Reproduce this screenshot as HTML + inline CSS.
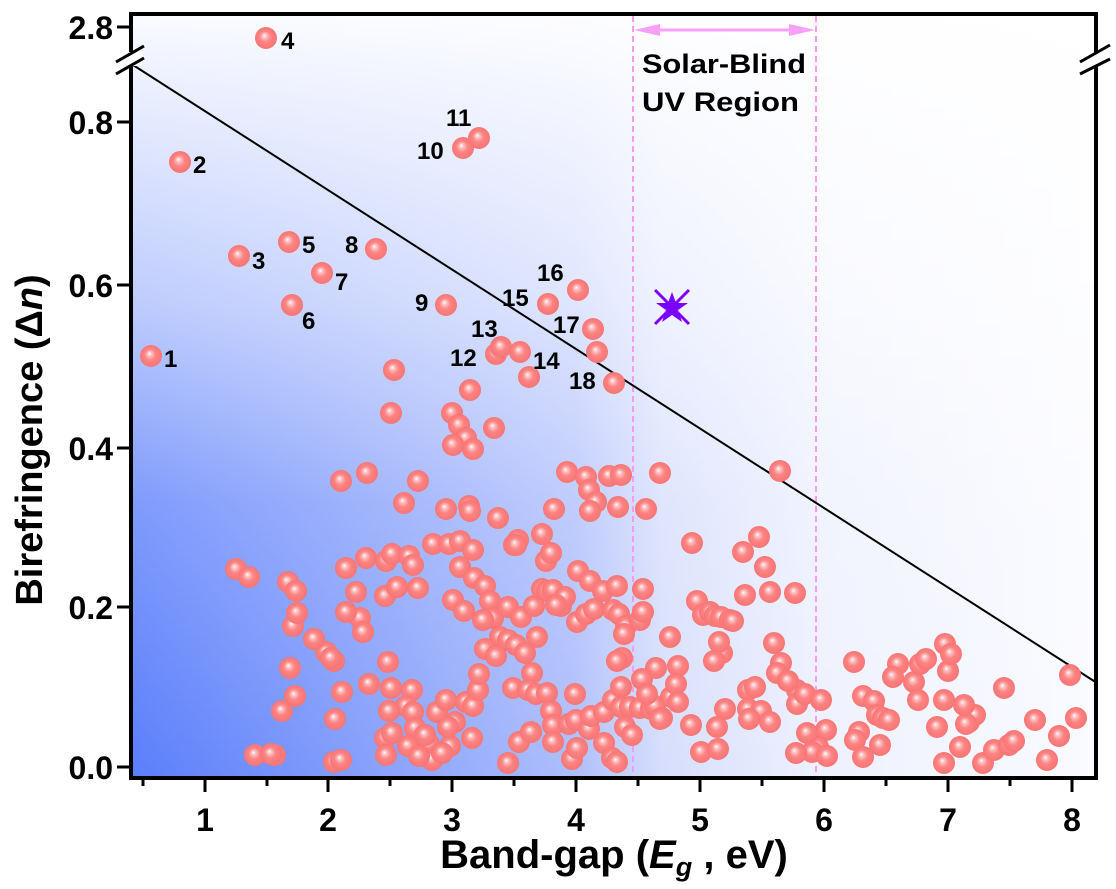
<!DOCTYPE html>
<html><head><meta charset="utf-8"><style>
html,body{margin:0;padding:0;background:#fff;width:1116px;height:889px;overflow:hidden}
svg text{font-family:"Liberation Sans",Arial,sans-serif;font-weight:bold}
</style></head><body>
<svg width="1116" height="889" viewBox="0 0 1116 889" xmlns="http://www.w3.org/2000/svg">
<defs>
<linearGradient id="hg" x1="131" y1="0" x2="1096" y2="0" gradientUnits="userSpaceOnUse">
<stop offset="0" stop-color="#5a7efb"/>
<stop offset="0.28" stop-color="#8ca4fb"/>
<stop offset="0.46" stop-color="#aebefc"/>
<stop offset="0.55" stop-color="#d6defc"/>
<stop offset="0.72" stop-color="#eef1fe"/>
<stop offset="1" stop-color="#fafbff"/>
</linearGradient>
<linearGradient id="vg" x1="0" y1="14" x2="0" y2="778" gradientUnits="userSpaceOnUse">
<stop offset="0" stop-color="#fff" stop-opacity="0.97"/>
<stop offset="0.38" stop-color="#fff" stop-opacity="0.6"/>
<stop offset="0.64" stop-color="#fff" stop-opacity="0.22"/>
<stop offset="1" stop-color="#fff" stop-opacity="0"/>
</linearGradient>
<radialGradient id="ball" cx="0.5" cy="0.5" r="0.5" fx="0.42" fy="0.38">
<stop offset="0" stop-color="#ffffff"/>
<stop offset="0.2" stop-color="#fdc0c0"/>
<stop offset="0.5" stop-color="#fc8484"/>
<stop offset="1" stop-color="#f87474"/>
</radialGradient>
<g id="b"><circle r="11" fill="url(#ball)"/></g>
</defs>
<rect x="131" y="14" width="965" height="764" fill="url(#hg)"/>
<rect x="131" y="14" width="965" height="764" fill="url(#vg)"/>
<line x1="633" y1="16" x2="633" y2="777" stroke="#f59af5" stroke-width="2" stroke-dasharray="6,4"/>
<line x1="816" y1="16" x2="816" y2="777" stroke="#f59af5" stroke-width="2" stroke-dasharray="6,4"/>
<line x1="640" y1="30" x2="810" y2="30" stroke="#f8a0f8" stroke-width="3"/>
<polygon points="634,30 660,24 660,36" fill="#f8a0f8"/>
<polygon points="815,30 789,24 789,36" fill="#f8a0f8"/>
<text x="642" y="73" font-size="27" textLength="164" lengthAdjust="spacingAndGlyphs">Solar-Blind</text>
<text x="642" y="111" font-size="27" textLength="157" lengthAdjust="spacingAndGlyphs">UV Region</text>
<line x1="133" y1="65" x2="1097" y2="683" stroke="#000" stroke-width="2"/>
<g id="pts">
<use href="#b" x="151" y="356"/><use href="#b" x="180" y="162"/><use href="#b" x="239" y="256"/><use href="#b" x="266" y="38"/><use href="#b" x="289" y="242"/><use href="#b" x="292" y="305"/><use href="#b" x="322" y="273"/><use href="#b" x="376" y="249"/><use href="#b" x="446" y="305"/><use href="#b" x="463" y="148"/><use href="#b" x="479" y="138"/><use href="#b" x="496" y="354"/><use href="#b" x="501" y="347"/><use href="#b" x="529" y="377"/><use href="#b" x="548" y="304"/><use href="#b" x="578" y="290"/><use href="#b" x="593" y="329"/><use href="#b" x="614" y="383"/><use href="#b" x="520" y="352"/><use href="#b" x="597" y="352"/>
<use href="#b" x="394" y="370"/><use href="#b" x="391" y="413"/><use href="#b" x="470" y="390"/><use href="#b" x="452" y="413"/><use href="#b" x="459" y="425"/><use href="#b" x="466" y="438"/><use href="#b" x="453" y="445"/><use href="#b" x="473" y="449"/><use href="#b" x="494" y="428"/><use href="#b" x="341" y="481"/><use href="#b" x="367" y="473"/><use href="#b" x="404" y="503"/><use href="#b" x="418" y="481"/><use href="#b" x="469" y="506"/><use href="#b" x="470" y="511"/><use href="#b" x="498" y="518"/><use href="#b" x="518" y="540"/><use href="#b" x="514" y="545"/><use href="#b" x="542" y="534"/><use href="#b" x="546" y="561"/><use href="#b" x="567" y="472"/><use href="#b" x="554" y="509"/><use href="#b" x="586" y="477"/><use href="#b" x="589" y="490"/><use href="#b" x="596" y="502"/><use href="#b" x="590" y="511"/><use href="#b" x="609" y="476"/><use href="#b" x="618" y="507"/><use href="#b" x="621" y="475"/><use href="#b" x="660" y="473"/><use href="#b" x="646" y="509"/><use href="#b" x="780" y="471"/>
<use href="#b" x="236" y="569"/><use href="#b" x="249" y="577"/><use href="#b" x="288" y="582"/><use href="#b" x="293" y="626"/><use href="#b" x="346" y="568"/><use href="#b" x="366" y="558"/><use href="#b" x="356" y="592"/><use href="#b" x="360" y="618"/><use href="#b" x="385" y="596"/><use href="#b" x="397" y="587"/><use href="#b" x="386" y="561"/><use href="#b" x="392" y="554"/><use href="#b" x="409" y="556"/><use href="#b" x="413" y="565"/><use href="#b" x="418" y="588"/><use href="#b" x="433" y="544"/><use href="#b" x="446" y="509"/><use href="#b" x="449" y="544"/><use href="#b" x="460" y="541"/><use href="#b" x="460" y="567"/><use href="#b" x="473" y="550"/><use href="#b" x="474" y="578"/><use href="#b" x="453" y="600"/><use href="#b" x="464" y="611"/><use href="#b" x="485" y="586"/><use href="#b" x="490" y="601"/><use href="#b" x="493" y="618"/><use href="#b" x="508" y="607"/><use href="#b" x="521" y="617"/><use href="#b" x="516" y="545"/><use href="#b" x="483" y="620"/><use href="#b" x="500" y="637"/><use href="#b" x="508" y="640"/><use href="#b" x="516" y="645"/><use href="#b" x="525" y="653"/><use href="#b" x="534" y="606"/><use href="#b" x="537" y="637"/><use href="#b" x="542" y="589"/><use href="#b" x="547" y="591"/><use href="#b" x="553" y="590"/><use href="#b" x="561" y="606"/><use href="#b" x="565" y="597"/><use href="#b" x="577" y="622"/><use href="#b" x="586" y="614"/><use href="#b" x="594" y="609"/><use href="#b" x="613" y="610"/><use href="#b" x="619" y="614"/><use href="#b" x="626" y="626"/><use href="#b" x="640" y="620"/><use href="#b" x="643" y="589"/><use href="#b" x="643" y="612"/><use href="#b" x="551" y="553"/><use href="#b" x="532" y="673"/><use href="#b" x="556" y="605"/><use href="#b" x="578" y="571"/><use href="#b" x="590" y="581"/><use href="#b" x="603" y="591"/><use href="#b" x="617" y="586"/><use href="#b" x="624" y="634"/><use href="#b" x="656" y="668"/><use href="#b" x="670" y="637"/><use href="#b" x="692" y="543"/><use href="#b" x="697" y="601"/><use href="#b" x="703" y="615"/><use href="#b" x="710" y="612"/><use href="#b" x="715" y="616"/><use href="#b" x="721" y="617"/><use href="#b" x="730" y="620"/><use href="#b" x="733" y="621"/><use href="#b" x="745" y="595"/><use href="#b" x="743" y="552"/><use href="#b" x="759" y="537"/><use href="#b" x="770" y="592"/><use href="#b" x="765" y="567"/><use href="#b" x="722" y="653"/><use href="#b" x="719" y="642"/><use href="#b" x="774" y="643"/><use href="#b" x="781" y="663"/><use href="#b" x="795" y="593"/><use href="#b" x="797" y="690"/>
<use href="#b" x="296" y="591"/><use href="#b" x="297" y="613"/><use href="#b" x="290" y="668"/><use href="#b" x="295" y="696"/><use href="#b" x="282" y="711"/><use href="#b" x="275" y="755"/><use href="#b" x="342" y="692"/><use href="#b" x="369" y="684"/><use href="#b" x="334" y="661"/><use href="#b" x="326" y="652"/><use href="#b" x="331" y="658"/><use href="#b" x="363" y="632"/><use href="#b" x="388" y="662"/><use href="#b" x="391" y="688"/><use href="#b" x="412" y="690"/><use href="#b" x="406" y="706"/><use href="#b" x="413" y="712"/><use href="#b" x="437" y="712"/><use href="#b" x="446" y="700"/><use href="#b" x="455" y="722"/><use href="#b" x="450" y="746"/><use href="#b" x="466" y="702"/><use href="#b" x="473" y="706"/><use href="#b" x="478" y="690"/><use href="#b" x="479" y="674"/><use href="#b" x="485" y="649"/><use href="#b" x="496" y="656"/><use href="#b" x="513" y="688"/><use href="#b" x="528" y="690"/><use href="#b" x="536" y="694"/><use href="#b" x="547" y="693"/><use href="#b" x="551" y="711"/><use href="#b" x="553" y="725"/><use href="#b" x="569" y="724"/><use href="#b" x="575" y="694"/><use href="#b" x="576" y="720"/><use href="#b" x="589" y="729"/><use href="#b" x="591" y="716"/><use href="#b" x="604" y="743"/><use href="#b" x="612" y="758"/><use href="#b" x="604" y="712"/><use href="#b" x="613" y="700"/><use href="#b" x="621" y="707"/><use href="#b" x="630" y="707"/><use href="#b" x="640" y="708"/><use href="#b" x="651" y="709"/><use href="#b" x="655" y="706"/><use href="#b" x="621" y="687"/><use href="#b" x="622" y="658"/><use href="#b" x="617" y="661"/><use href="#b" x="642" y="679"/><use href="#b" x="647" y="694"/><use href="#b" x="662" y="718"/><use href="#b" x="671" y="697"/><use href="#b" x="691" y="725"/><use href="#b" x="678" y="666"/><use href="#b" x="676" y="684"/><use href="#b" x="678" y="702"/><use href="#b" x="714" y="661"/><use href="#b" x="725" y="709"/><use href="#b" x="748" y="690"/><use href="#b" x="748" y="709"/><use href="#b" x="755" y="687"/><use href="#b" x="761" y="711"/><use href="#b" x="777" y="673"/><use href="#b" x="788" y="681"/><use href="#b" x="797" y="704"/><use href="#b" x="805" y="694"/><use href="#b" x="821" y="700"/><use href="#b" x="826" y="730"/><use href="#b" x="818" y="747"/><use href="#b" x="812" y="752"/><use href="#b" x="827" y="756"/><use href="#b" x="854" y="662"/><use href="#b" x="863" y="696"/><use href="#b" x="874" y="701"/><use href="#b" x="877" y="715"/><use href="#b" x="883" y="718"/><use href="#b" x="859" y="732"/><use href="#b" x="855" y="740"/><use href="#b" x="863" y="757"/><use href="#b" x="880" y="745"/><use href="#b" x="889" y="720"/><use href="#b" x="898" y="664"/><use href="#b" x="893" y="677"/><use href="#b" x="914" y="682"/><use href="#b" x="920" y="664"/><use href="#b" x="926" y="659"/><use href="#b" x="918" y="700"/><use href="#b" x="945" y="644"/><use href="#b" x="948" y="671"/><use href="#b" x="937" y="727"/><use href="#b" x="944" y="763"/><use href="#b" x="960" y="747"/><use href="#b" x="969" y="722"/><use href="#b" x="975" y="715"/><use href="#b" x="983" y="763"/><use href="#b" x="994" y="750"/><use href="#b" x="1009" y="745"/><use href="#b" x="1014" y="741"/><use href="#b" x="1035" y="720"/><use href="#b" x="1047" y="760"/><use href="#b" x="1059" y="736"/><use href="#b" x="1070" y="675"/><use href="#b" x="1076" y="718"/><use href="#b" x="1004" y="688"/><use href="#b" x="966" y="724"/><use href="#b" x="951" y="654"/><use href="#b" x="944" y="700"/><use href="#b" x="964" y="705"/><use href="#b" x="807" y="733"/>
<use href="#b" x="255" y="755"/><use href="#b" x="271" y="754"/><use href="#b" x="334" y="762"/><use href="#b" x="341" y="760"/><use href="#b" x="385" y="738"/><use href="#b" x="386" y="755"/><use href="#b" x="417" y="744"/><use href="#b" x="429" y="744"/><use href="#b" x="432" y="760"/><use href="#b" x="442" y="753"/><use href="#b" x="448" y="727"/><use href="#b" x="472" y="738"/><use href="#b" x="508" y="763"/><use href="#b" x="519" y="742"/><use href="#b" x="531" y="732"/><use href="#b" x="553" y="742"/><use href="#b" x="572" y="759"/><use href="#b" x="577" y="748"/><use href="#b" x="617" y="762"/><use href="#b" x="625" y="727"/><use href="#b" x="632" y="735"/><use href="#b" x="660" y="719"/><use href="#b" x="701" y="752"/><use href="#b" x="718" y="749"/><use href="#b" x="717" y="727"/><use href="#b" x="749" y="719"/><use href="#b" x="770" y="722"/><use href="#b" x="796" y="753"/><use href="#b" x="314" y="639"/><use href="#b" x="335" y="719"/><use href="#b" x="346" y="612"/><use href="#b" x="389" y="711"/><use href="#b" x="392" y="733"/><use href="#b" x="415" y="728"/><use href="#b" x="425" y="735"/><use href="#b" x="408" y="746"/><use href="#b" x="419" y="756"/>
</g>
<g stroke="#7a00ff" stroke-width="3">
<line x1="655" y1="290" x2="689" y2="324"/><line x1="689" y1="290" x2="655" y2="324"/>
</g>
<polygon points="672,292 676,303 688,303 678,310 682,322 672,315 662,322 666,310 656,303 668,303" fill="#7a00ff"/>
<g font-size="24" fill="#000">
<text x="164" y="367">1</text><text x="193" y="173">2</text><text x="252" y="269">3</text><text x="281" y="49">4</text><text x="302" y="253">5</text><text x="302" y="329">6</text><text x="335" y="290">7</text><text x="345" y="253">8</text><text x="415" y="311">9</text><text x="417" y="159">10</text><text x="446" y="126">11</text><text x="450" y="366">12</text><text x="471" y="337">13</text><text x="533" y="369">14</text><text x="502" y="306">15</text><text x="537" y="281">16</text><text x="553" y="333">17</text><text x="569" y="389">18</text>
</g>
<rect x="131" y="14" width="965" height="764" fill="none" stroke="#000" stroke-width="4"/>
<rect x="118" y="52" width="24" height="14" fill="#fff"/>
<rect x="1084" y="52" width="24" height="14" fill="#fff"/>
<g stroke="#000" stroke-width="3">
<line x1="116" y1="62" x2="144" y2="46"/><line x1="116" y1="74" x2="144" y2="58"/>
<line x1="1080" y1="62" x2="1110" y2="45"/><line x1="1080" y1="74" x2="1110" y2="59"/>
</g>
<g stroke="#000" stroke-width="3">
<line x1="117" y1="767" x2="131" y2="767"/><line x1="117" y1="607" x2="131" y2="607"/><line x1="117" y1="448" x2="131" y2="448"/><line x1="117" y1="285" x2="131" y2="285"/><line x1="117" y1="122" x2="131" y2="122"/><line x1="117" y1="27" x2="131" y2="27"/>
</g>
<g font-size="32" text-anchor="end">
<text x="113" y="779">0.0</text><text x="113" y="619">0.2</text><text x="113" y="460">0.4</text><text x="113" y="297">0.6</text><text x="113" y="134">0.8</text><text x="113" y="39">2.8</text>
</g>
<g stroke="#000" stroke-width="3">
<line x1="205" y1="778" x2="205" y2="792"/><line x1="328" y1="778" x2="328" y2="792"/><line x1="452" y1="778" x2="452" y2="792"/><line x1="576" y1="778" x2="576" y2="792"/><line x1="700" y1="778" x2="700" y2="792"/><line x1="824" y1="778" x2="824" y2="792"/><line x1="948" y1="778" x2="948" y2="792"/><line x1="1072" y1="778" x2="1072" y2="792"/>
<line x1="143" y1="778" x2="143" y2="786"/><line x1="267" y1="778" x2="267" y2="786"/><line x1="390" y1="778" x2="390" y2="786"/><line x1="514" y1="778" x2="514" y2="786"/><line x1="638" y1="778" x2="638" y2="786"/><line x1="762" y1="778" x2="762" y2="786"/><line x1="886" y1="778" x2="886" y2="786"/><line x1="1010" y1="778" x2="1010" y2="786"/>
</g>
<g font-size="32" text-anchor="middle">
<text x="205" y="831">1</text><text x="328" y="831">2</text><text x="452" y="831">3</text><text x="576" y="831">4</text><text x="700" y="831">5</text><text x="824" y="831">6</text><text x="948" y="831">7</text><text x="1072" y="831">8</text>
</g>
<text x="614" y="868" font-size="40" text-anchor="middle">Band-gap (<tspan font-style="italic">E</tspan><tspan font-style="italic" font-size="27" dy="8">g</tspan><tspan dy="-8"> , eV)</tspan></text>
<text transform="translate(42,440) rotate(-90)" font-size="38" text-anchor="middle">Birefringence (Δ<tspan font-style="italic">n</tspan>)</text>
</svg>
</body></html>
